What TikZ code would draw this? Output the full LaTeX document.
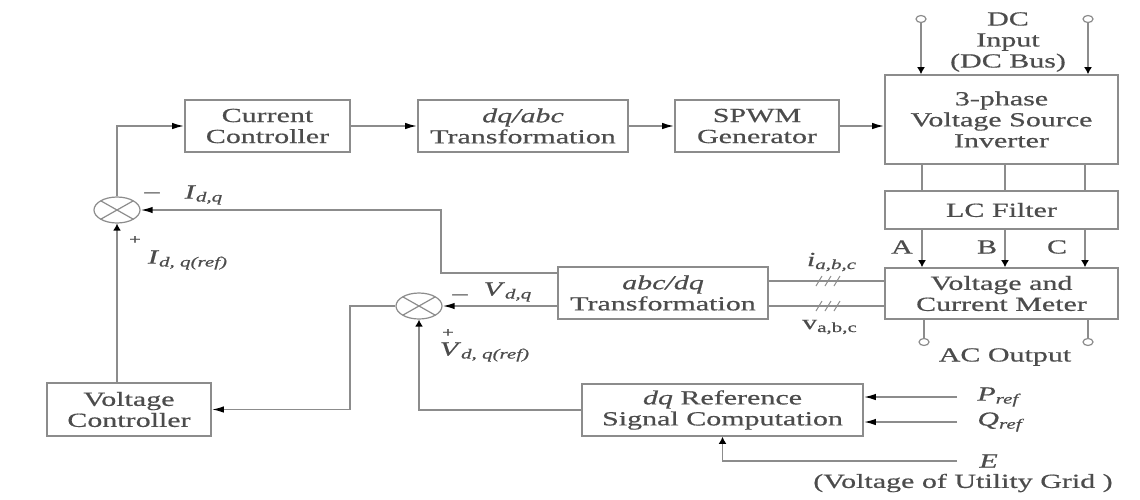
\documentclass[tikz,border=0pt]{standalone}
\usepackage{fontspec}
\setmainfont{Liberation Serif}[FakeStretch=1.5,FakeBold=0.6]
\usepackage{xcolor}
\usetikzlibrary{arrows.meta,shapes.geometric}
\definecolor{linegray}{gray}{0.55}
\definecolor{textgray}{gray}{0.3}

\begin{document}
\begin{tikzpicture}[x=0.5pt,y=-0.5pt,font=\fontsize{10}{10.5}\selectfont,
  wire/.style={draw=linegray,line width=0.8pt},
  sig/.style={wire,-{Latex[length=6pt,width=3.2pt,color=black]}},
  sigv/.style={wire,-{Latex[length=3.5pt,width=4pt,color=black]}},
  block/.style={draw=linegray,line width=0.8pt,text=textgray,align=center,minimum height=26pt,inner sep=0pt},
  sumnode/.style={draw=linegray,line width=0.6pt,ellipse,minimum width=23pt,minimum height=13pt,inner sep=0pt,
    path picture={\draw[linegray,line width=0.6pt] (path picture bounding box.north west) -- (path picture bounding box.south east)
      (path picture bounding box.north east) -- (path picture bounding box.south west);}},
  term/.style={draw=linegray,line width=0.6pt,ellipse,minimum width=5pt,minimum height=3.5pt,inner sep=0pt},
  lbl/.style={text=textgray,inner sep=1pt}]
\useasboundingbox (0,0) rectangle (1140,499);

\node[block,minimum width=82.5pt] (curctrl) at (267.5,126) {Current\\Controller};
\node[block,minimum width=105pt] (dqabc) at (523,126) {\textit{dq/abc}\\Transformation};
\node[block,minimum width=82pt] (spwm) at (757,126) {SPWM\\Generator};
\node[block,minimum width=116.5pt,minimum height=44.5pt] (vsi) at (1001.5,119.5) {3-phase\\Voltage Source\\Inverter};
\node[block,minimum width=116.5pt,minimum height=19pt] (lcf) at (1001.5,210) {LC Filter};
\node[block,minimum width=116.5pt,minimum height=25.5pt] (meter) at (1001.5,293.5) {Voltage and\\Current Meter};
\node[block,minimum width=105pt] (abcdq) at (663,293) {\textit{abc/dq}\\Transformation};
\node[block,minimum width=82pt,minimum height=26.5pt] (volctrl) at (129,409.5) {Voltage\\Controller};
\node[block,minimum width=140.5pt] (dqref) at (722.5,410) {\textit{dq} Reference\\Signal Computation};

\node[sumnode] (sum1) at (117,210) {};
\node[sumnode] (sum2) at (419,306) {};

\node[term] (dcp) at (921,19) {};
\node[term] (dcn) at (1088,19) {};
\node[term] (acp) at (924,342) {};
\node[term] (acn) at (1088,342) {};

\node[lbl,align=center] (dcin) at (1008,42) {DC\\Input\\(DC Bus)};
\node[lbl] (acout) at (1005,357) {AC Output};

% forward path
\draw[sig] (sum1.north) |- (curctrl.west);
\path (curctrl) edge[sig] (dqabc);
\path (dqabc) edge[sig] (spwm);
\draw[sig] (spwm.east) -- (spwm.east -| vsi.west);
\draw[sigv] (dcp.south) -- (dcp.south |- vsi.north);
\draw[sigv] (dcn.south) -- (dcn.south |- vsi.north);
\draw[wire] (meter.south -| acp) -- (acp.north);
\draw[wire] (meter.south -| acn) -- (acn.north);

% three phases
\foreach \ph/\px/\lx in {A/922/902,B/1005/987,C/1085/1057}{
  \coordinate (ph\ph) at (\px,247);
  \draw[wire] (vsi.south -| ph\ph) -- (lcf.north -| ph\ph);
  \draw[sigv] (lcf.south -| ph\ph) -- (meter.north -| ph\ph);
  \node[lbl] (lbl\ph) at (\lx,247) {\ph};
}

% measurements
\coordinate (ibus) at (828,281);
\coordinate (vbus) at (828,306);
\draw[wire] (meter.west |- ibus) -- (abcdq.east |- ibus);
\draw[wire] (meter.west |- vbus) -- (abcdq.east |- vbus);
\foreach \bus in {ibus,vbus}
  \foreach \dx in {-4.5,0,4.5}
    \draw[wire,line width=0.5pt] ([xshift=\dx pt-1.5pt,yshift=-2.5pt]\bus) -- ++(3pt,5pt);
\node[lbl] (ilbl) at (832,262) {\textit{i}\textsubscript{\textit{a,b,c}}};
\node[lbl] (vlbl) at (830,327) {v\textsubscript{a,b,c}};

% current loop
\coordinate (ifb) at (441,273);
\draw[sig] (abcdq.west |- ifb) -- (ifb) |- (sum1.east);
\node[lbl] (m1) at (152,195) {--};
\node[lbl] (idq) at (204,195) {\textit{I}\textsubscript{\textit{d,q}}};
\node[lbl] (p1) at (135,240) {\scriptsize +};
\node[lbl] (idqref) at (188,260) {\textit{I}\textsubscript{\textit{d, q(ref)}}};
\draw[sigv] (volctrl.north -| sum1) -- (sum1.south);

% voltage loop
\draw[sig] (abcdq.west |- sum2) -- (sum2.east);
\node[lbl] (m2) at (460,297) {--};
\node[lbl] (vdq) at (508,292) {\textit{V}\textsubscript{\textit{d,q}}};
\node[lbl] (p2) at (448,333) {\scriptsize +};
\node[lbl] (vdqref) at (485,352) {\textit{V}\textsubscript{\textit{d, q(ref)}}};
\coordinate (vbend) at (350,306);
\draw[sig] (sum2.west) -- (vbend) |- (volctrl.east);
\draw[sigv] (dqref.west) -| (sum2.south);

% references
\coordinate (pin) at (957,397);
\coordinate (qin) at (957,422);
\coordinate (ein) at (957,461);
\draw[sig] (pin) -- (pin -| dqref.east);
\draw[sig] (qin) -- (qin -| dqref.east);
\draw[sigv] (ein) -| (dqref.south);
\node[lbl,anchor=west] (plbl) at (975,397) {\textit{P}\textsubscript{\textit{ref}}};
\node[lbl,anchor=west] (qlbl) at (975,422) {\textit{Q}\textsubscript{\textit{ref}}};
\node[lbl,anchor=west] (elbl) at (977,461) {\textit{E}};
\node[lbl] (grid) at (963,483) {(Voltage of Utility Grid )};

\end{tikzpicture}
\end{document}
